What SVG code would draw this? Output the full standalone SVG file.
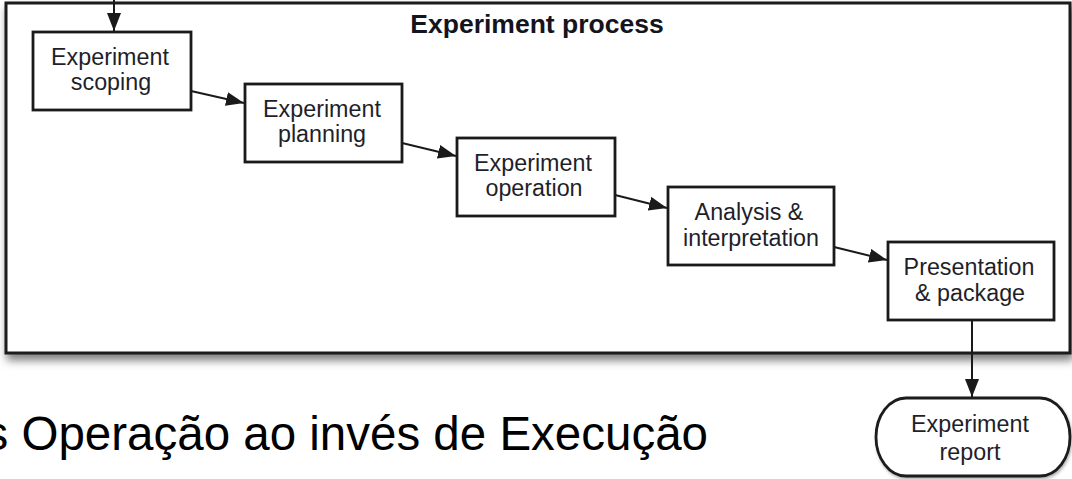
<svg xmlns="http://www.w3.org/2000/svg" width="1072" height="479" viewBox="0 0 1072 479">
<style>
  .box { fill: #ffffff; stroke: #1a1a1a; stroke-width: 2.8; }
  .lbl { font-family: "Liberation Sans", Arial, sans-serif; font-size: 23.3px; fill: #1f1f2a; text-anchor: middle; }
  .title { font-family: "Liberation Sans", Arial, sans-serif; font-size: 26.5px; font-weight: bold; fill: #141420; text-anchor: middle; }
  .big { font-family: "Liberation Sans", Arial, sans-serif; font-size: 47.5px; fill: #000000; text-anchor: end; }
  .conn { fill: none; stroke: #1a1a1a; stroke-width: 2; }
</style>
<defs>
  <marker id="ah" viewBox="0 0 18 14" refX="18" refY="7" markerWidth="18" markerHeight="14" markerUnits="userSpaceOnUse" orient="auto">
    <path d="M0,0 L18,7 L0,14 Z" fill="#1a1a1a"/>
  </marker>
  <filter id="sh" x="-5%" y="-5%" width="110%" height="115%">
    <feDropShadow dx="2" dy="6" stdDeviation="4" flood-color="#000000" flood-opacity="0.5"/>
  </filter>
  <filter id="sh2" x="-10%" y="-10%" width="120%" height="130%">
    <feDropShadow dx="1" dy="2" stdDeviation="1.5" flood-color="#000000" flood-opacity="0.3"/>
  </filter>
</defs>
<rect width="1072" height="479" fill="#ffffff"/>

<g id="process-frame">
  <rect x="6" y="3" width="1064" height="350" fill="#ffffff" stroke="#1a1a1a" stroke-width="3" filter="url(#sh)"/>
  <text class="title" x="537" y="33">Experiment process</text>
</g>

<g id="connectors">
  <line class="conn" x1="114" y1="0" x2="114" y2="31" marker-end="url(#ah)"/>
  <line class="conn" x1="191" y1="91" x2="244" y2="103" marker-end="url(#ah)"/>
  <line class="conn" x1="402" y1="143" x2="456" y2="156" marker-end="url(#ah)"/>
  <line class="conn" x1="615" y1="195" x2="667" y2="208" marker-end="url(#ah)"/>
  <line class="conn" x1="834" y1="247" x2="887" y2="260" marker-end="url(#ah)"/>
  <line class="conn" x1="972" y1="320" x2="972" y2="397" marker-end="url(#ah)"/>
</g>

<g id="node-scoping">
  <rect class="box" x="33" y="32" width="158" height="78"/>
  <text class="lbl" x="110" y="65">Experiment</text>
  <text class="lbl" x="111" y="90">scoping</text>
</g>
<g id="node-planning">
  <rect class="box" x="245" y="84" width="157" height="78"/>
  <text class="lbl" x="322" y="117">Experiment</text>
  <text class="lbl" x="322" y="142">planning</text>
</g>
<g id="node-operation">
  <rect class="box" x="457" y="138" width="158" height="78"/>
  <text class="lbl" x="533" y="171">Experiment</text>
  <text class="lbl" x="534" y="196">operation</text>
</g>
<g id="node-analysis">
  <rect class="box" x="668" y="187" width="166" height="78"/>
  <text class="lbl" x="749" y="220">Analysis &amp;</text>
  <text class="lbl" x="751" y="246">interpretation</text>
</g>
<g id="node-presentation">
  <rect class="box" x="888" y="242" width="166" height="78"/>
  <text class="lbl" x="969" y="275">Presentation</text>
  <text class="lbl" x="970" y="301">&amp; package</text>
</g>
<g id="node-report">
  <rect class="box" x="876" y="398" width="194" height="78" rx="30" ry="39" filter="url(#sh2)"/>
  <text class="lbl" x="970" y="432">Experiment</text>
  <text class="lbl" x="970" y="460">report</text>
</g>

<g id="note">
  <text class="big" x="708" y="450">s Operação ao invés de Execução</text>
</g>
</svg>
